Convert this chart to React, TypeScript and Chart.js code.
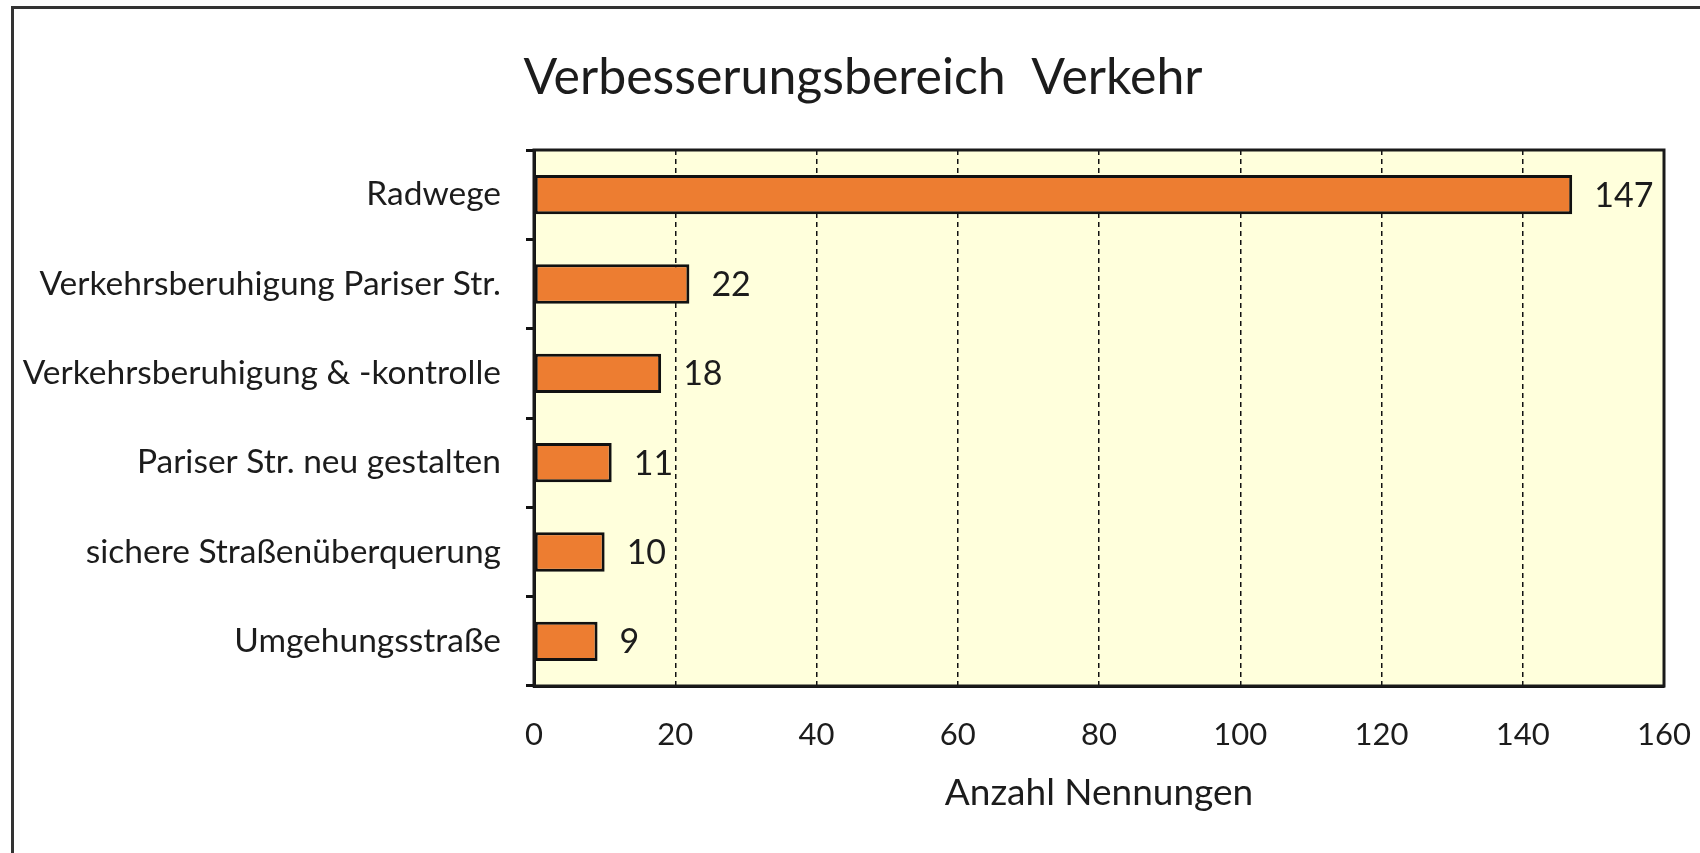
import React, { useEffect, useRef } from "react";
import { Chart, registerables } from "chart.js";

Chart.register(...registerables);

const titleText = "Verbesserungsbereich  Verkehr";
const axisTitle = "Anzahl Nennungen";
const categories = [
  "Radwege",
  "Verkehrsberuhigung Pariser Str.",
  "Verkehrsberuhigung & -kontrolle",
  "Pariser Str. neu gestalten",
  "sichere Straßenüberquerung",
  "Umgehungsstraße",
];
const values = [147, 22, 18, 11, 10, 9];
const xMin = 0;
const xMax = 160;
const xStep = 20;

const FONT = "Lato, 'Open Sans', sans-serif";
const TEXT = "#1c1c1c";

const plotBg = {
  id: "plotBg",
  beforeDraw(chart: any) {
    const { ctx, chartArea: a } = chart;
    ctx.save();
    ctx.fillStyle = "#FFFFDC";
    ctx.fillRect(a.left, a.top, a.right - a.left, a.bottom - a.top);
    ctx.restore();
  },
  afterDatasetsDraw(chart: any) {
    const { ctx, chartArea: a } = chart;
    ctx.save();
    ctx.strokeStyle = "#1a1a1a";
    ctx.lineWidth = 3;
    ctx.strokeRect(a.left, a.top, a.right - a.left, a.bottom - a.top);
    ctx.restore();
  },
};

const chartTitle = {
  id: "chartTitle",
  afterDraw(chart: any) {
    const { ctx } = chart;
    ctx.save();
    ctx.font = `50px ${FONT}`;
    ctx.fillStyle = TEXT;
    ctx.textAlign = "center";
    ctx.textBaseline = "middle";
    ctx.fillText(titleText, 863, 78);
    ctx.restore();
  },
};

const valueLabels = {
  id: "valueLabels",
  afterDatasetsDraw(chart: any) {
    const { ctx } = chart;
    const meta = chart.getDatasetMeta(0);
    ctx.save();
    ctx.font = `34px ${FONT}`;
    ctx.fillStyle = TEXT;
    ctx.textAlign = "left";
    ctx.textBaseline = "middle";
    meta.data.forEach((el: any, i: number) => {
      ctx.fillText(String(chart.data.datasets[0].data[i]), el.x + 22, el.y + 1);
    });
    ctx.restore();
  },
};

export default function App() {
  const ref = useRef<HTMLCanvasElement | null>(null);
  useEffect(() => {
    if (!ref.current) return;
    const chart = new Chart(ref.current, {
      type: "bar",
      data: {
        labels: categories,
        datasets: [
          {
            data: values,
            backgroundColor: "#ED7D31",
            borderColor: "#111111",
            borderWidth: 3,
            borderSkipped: false,
            categoryPercentage: 1,
            barPercentage: 0.44,
          },
        ],
      },
      options: {
        indexAxis: "y",
        animation: false,
        responsive: false,
        maintainAspectRatio: false,
        layout: { padding: { left: 0, right: 36, top: 150, bottom: 0 } },
        plugins: {
          legend: { display: false },
          tooltip: { enabled: false },
          title: { display: false },
        },
        scales: {
          x: {
            min: xMin,
            max: xMax,
            ticks: {
              stepSize: xStep,
              color: TEXT,
              font: { family: FONT, size: 31 },
              padding: 30,
            },
            grid: {
              color: "#111111",
              lineWidth: 1.5,
              drawTicks: false,
            },
            border: { display: true, color: "#111111", width: 3 },
            title: {
              display: true,
              text: axisTitle,
              color: TEXT,
              font: { family: FONT, size: 37 },
              padding: { top: 0, bottom: 38 },
            },
            afterFit(scale: any) {
              scale.height = 167;
              scale.paddingLeft = 0;
              scale.paddingRight = 0;
            },
          },
          y: {
            ticks: {
              color: TEXT,
              font: { family: FONT, size: 33.5 },
              padding: 25,
            },
            grid: {
              drawOnChartArea: false,
              drawTicks: true,
              tickLength: 8,
              color: "#111111",
              lineWidth: 3,
            },
            border: { display: true, color: "#111111", width: 3 },
            afterFit(scale: any) {
              scale.width = 534;
              scale.paddingTop = 0;
              scale.paddingBottom = 0;
            },
          },
        },
      },
      plugins: [plotBg, valueLabels, chartTitle],
    } as any);
    (chart.options.scales as any).x.grid.borderDash = [5, 4];
    (chart.options.scales as any).x.border.dash = [5, 4];
    chart.update();
    return () => chart.destroy();
  }, []);

  return (
    <div style={{ position: "fixed", left: 0, top: 0, width: 1700, height: 853, overflow: "hidden", background: "#fff" }}>
      <div
        style={{
          position: "absolute",
          left: 11,
          top: 6,
          width: 3000,
          height: 3000,
          borderLeft: "3px solid #333",
          borderTop: "3px solid #333",
        }}
      />
      <canvas ref={ref} width={1700} height={853} style={{ position: "absolute", left: 0, top: 0 }} />
    </div>
  );
}
